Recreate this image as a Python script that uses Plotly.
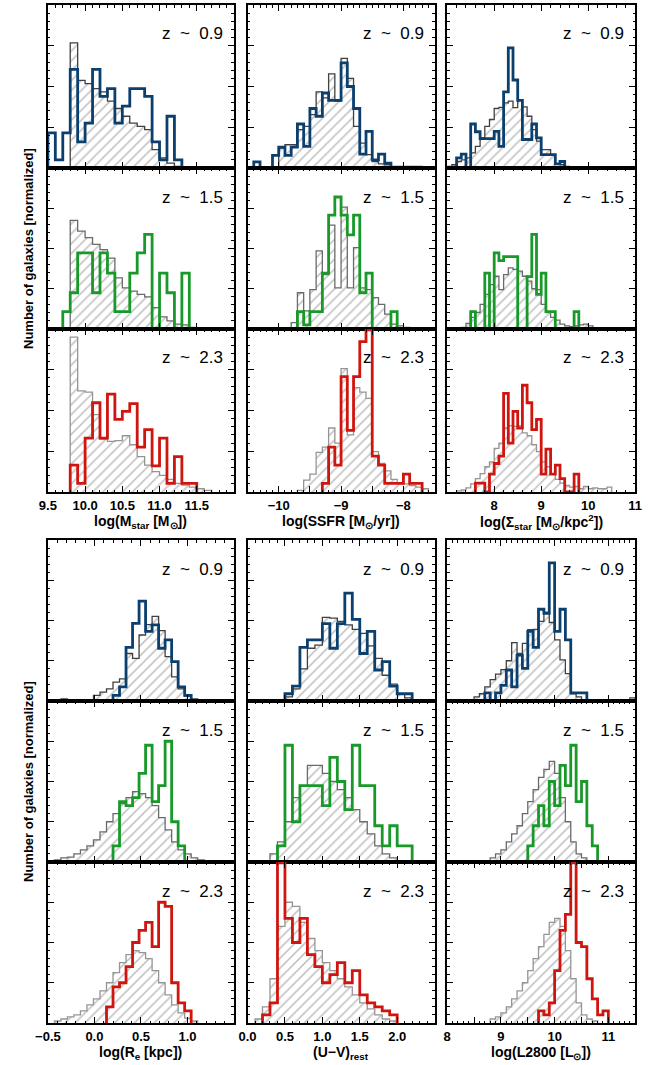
import plotly.graph_objects as go

# ---------------- data (normalized counts, one value per bin) ----------------
mass_bin = 0.1
mass_z09_gray_start, mass_z09_gray = 9.8, [3.07, 2.15, 2.07, 1.95, 1.87, 1.64, 1.46, 1.27, 1.1, 1.02, 0.94, 0.45, 0.25, 0.12, 0.04]
mass_z09_col_start, mass_z09_col = 9.5, [0.86, 0.2, 0.86, 2.42, 0.64, 1.1, 2.42, 1.76, 1.95, 1.1, 1.52, 1.95, 1.95, 1.76, 0.64, 0.2, 1.27, 0.2]
mass_z15_gray_start, mass_z15_gray = 9.8, [2.7, 2.43, 2.27, 2.1, 1.97, 1.76, 1.27, 1.02, 0.94, 0.86, 0.8, 0.53, 0.3, 0.2, 0.12, 0.1, 0.04]
mass_z15_col_start, mass_z15_col = 9.7, [0.43, 0.9, 1.89, 1.89, 0.9, 1.89, 1.39, 0.43, 0.43, 1.39, 1.89, 2.35, 0, 1.39, 0.9, 0, 1.39]
mass_z23_gray_start, mass_z23_gray = 9.8, [3.8, 2.48, 2.45, 1.9, 1.3, 1.24, 1.26, 1.38, 1.16, 0.87, 0.66, 0.5, 0.41, 0.31, 0.21, 0.17, 0.12, 0.08, 0.04]
mass_z23_col_start, mass_z23_col = 9.8, [0.66, 0.21, 1.32, 2.19, 1.32, 2.4, 1.78, 1.98, 2.17, 1.1, 1.53, 0.64, 1.32, 0.21, 0.87, 0.21, 0.21]

ssfr_bin = 0.1
ssfr_z09_gray_start, ssfr_z09_gray = -10.0, [0.49, 0.57, 0.57, 0.94, 1.02, 1.31, 1.87, 1.72, 2.31, 1.64, 2.69, 2.2, 1.02, 0.61, 0.33, 0.16, 0.1, 0.08, 0.04, 0.04, 0.04, 0.04, 0.04]
ssfr_z09_col_start, ssfr_z09_col = -10.4, [0.15, 0, 0, 0.31, 0.51, 0.31, 0.51, 1.08, 0.53, 1.46, 1.27, 1.84, 1.66, 1.66, 2.58, 2.0, 1.46, 0.34, 0.9, 0.2, 0.34, 0.12]
ssfr_z15_gray_start, ssfr_z15_gray = -9.8, [0.16, 0.9, 0.45, 0.98, 1.94, 1.35, 2.58, 1.02, 3.03, 1.02, 2.02, 1.02, 0.98, 0.78, 0.61, 0.37, 0.12, 0.08, 0.04]
ssfr_z15_col_start, ssfr_z15_col = -9.7, [0.43, 0.1, 0.43, 0.43, 1.39, 2.83, 3.28, 2.83, 2.34, 2.83, 0.9, 1.39, 0, 0, 0, 0.43]
ssfr_z23_gray_start, ssfr_z23_gray = -9.7, [0.04, 0.29, 0.44, 0.97, 1.1, 1.57, 1.2, 3.03, 1.4, 2.56, 2.45, 2.3, 0.99, 0.7, 0.52, 0.31, 0.22, 0.2, 0.16, 0.12, 0.08]
ssfr_z23_col_start, ssfr_z23_col = -9.3, [0.21, 1.1, 0.66, 2.83, 1.51, 2.83, 3.69, 3.98, 0.88, 0.66, 0.21, 0.21, 0.21, 0.44, 0.21, 0.21]

sig_bin = 0.1
sig_z09_gray_start, sig_z09_gray = 7.0, [0.04, 0.08, 0.16, 0.2, 0.25, 0.37, 0.53, 0.74, 1.02, 1.19, 1.46, 1.49, 1.6, 1.64, 1.48, 1.68, 1.5, 1.27, 0.94, 0.66, 0.45, 0.45, 0.33, 0.1, 0.08, 0.04, 0.03, 0.02, 0.01, 0.01, 0, 0, 0, 0, 0.03]
sig_z09_col_start, sig_z09_col = 7.2, [0.25, 0.34, 0, 1.08, 0.89, 0.72, 0.72, 0.72, 0.9, 0.53, 1.87, 2.95, 2.16, 1.66, 0.7, 0.7, 1.08, 0.74, 0.33, 0.33, 0.33, 0.1, 0.16]
sig_z15_gray_start, sig_z15_gray = 7.3, [0.04, 0.14, 0.29, 0.41, 0.61, 0.86, 1.1, 1.31, 0.98, 1.35, 1.52, 1.48, 1.44, 1.31, 1.19, 1.0, 0.98, 0.61, 0.41, 0.29, 0.22, 0.12, 0.08, 0.06, 0.08, 0.1, 0.12, 0.08]
sig_z15_col_start, sig_z15_col = 7.5, [0.43, 0, 0, 1.39, 0, 1.89, 1.7, 1.8, 1.8, 1.8, 0, 0, 1.3, 2.35, 0.86, 1.39, 0.43, 0.43, 0, 0, 0, 0, 0.43]
sig_z23_gray_start, sig_z23_gray = 7.2, [0.03, 0.05, 0.1, 0.2, 0.33, 0.45, 0.62, 0.74, 1.07, 1.2, 1.57, 1.63, 1.61, 1.63, 1.45, 1.38, 1.16, 0.99, 0.74, 0.62, 0.45, 0.31, 0.22, 0.16, 0.12, 0.14, 0.08, 0.14, 0.08, 0.1, 0.08, 0.08, 0.12]
sig_z23_col_start, sig_z23_col = 7.6, [0.22, 0.22, 0, 0.44, 0.7, 0.88, 2.42, 1.2, 1.98, 1.57, 2.62, 2.19, 1.53, 1.78, 0.44, 1.05, 0.44, 0.66, 0.33, 0, 0, 0.44]

re_bin = 0.07
re_z09_gray_start, re_z09_gray = -0.36, [0.05, 0.02, 0, 0.02, 0.03, 0.14, 0.22, 0.3, 0.47, 0.55, 1.18, 1.06, 1.64, 1.9, 2.1, 1.75, 1.1, 0.6, 0.3, 0.12, 0.05, 0.02, 0.02]
re_z09_col_start, re_z09_col = 0.2, [0.14, 0.35, 1.33, 1.93, 2.48, 1.73, 1.89, 1.31, 1.52, 0.98, 0.35, 0.14]
re_z15_gray_start, re_z15_gray = -0.43, [0.05, 0.1, 0.12, 0.2, 0.3, 0.4, 0.55, 0.75, 1.0, 1.2, 1.45, 1.6, 1.75, 1.7, 1.6, 1.4, 1.1, 0.8, 0.5, 0.3, 0.2, 0.1, 0.05]
re_z15_col_start, re_z15_col = 0.2, [0.4, 1.5, 1.4, 1.6, 2.2, 2.9, 1.5, 1.9, 3.0, 1.0, 0.4]
re_z23_gray_start, re_z23_gray = -0.43, [0.05, 0.1, 0.15, 0.2, 0.3, 0.45, 0.6, 0.8, 1.0, 1.25, 1.5, 1.7, 1.8, 1.75, 1.6, 1.3, 1.0, 0.7, 0.45, 0.25, 0.12, 0.05]
re_z23_col_start, re_z23_col = 0.13, [0.4, 0.9, 1.0, 1.4, 2.0, 2.3, 2.5, 1.9, 3.0, 2.9, 1.0, 0.5, 0.3]

uv_bin = 0.1
uv_z09_gray_start, uv_z09_gray = 0.0, [0.02, 0.02, 0, 0, 0, 0.1, 0.3, 0.8, 1.31, 1.39, 2.08, 2.06, 1.98, 1.89, 1.78, 1.68, 1.37, 1.06, 0.64, 0.42, 0.18, 0.08, 0.03, 0.02]
uv_z09_col_start, uv_z09_col = 0.5, [0.18, 0.37, 1.33, 1.52, 1.52, 1.92, 1.31, 1.92, 2.68, 2.03, 1.18, 1.73, 0.77, 0.98, 0.37, 0.18, 0.18]
uv_z15_gray_start, uv_z15_gray = 0.3, [0.2, 0.5, 1.0, 1.6, 1.9, 2.4, 2.4, 2.2, 2.0, 1.8, 1.6, 1.3, 1.0, 0.7, 0.4, 0.2, 0.1]
uv_z15_col_start, uv_z15_col = 0.4, [0.4, 2.9, 1.0, 1.9, 1.9, 1.9, 1.4, 2.6, 2.0, 1.3, 2.9, 1.9, 1.9, 0.9, 0.4, 0.9, 0.4, 0.4]
uv_z23_gray_start, uv_z23_gray = 0.1, [0.1, 0.4, 1.1, 2.4, 3.0, 2.9, 2.5, 2.1, 1.8, 1.5, 1.3, 1.1, 0.9, 0.7, 0.5, 0.35, 0.2, 0.1, 0.05]
uv_z23_col_start, uv_z23_col = 0.2, [0.2, 0.5, 3.98, 2.6, 2.0, 2.6, 1.7, 1.4, 1.0, 1.2, 1.5, 1.0, 1.3, 0.7, 0.5, 0.4, 0.3, 0.2]

l28_bin = 0.1
l28_z09_gray_start, l28_z09_gray = 8.5, [0.1, 0.18, 0.35, 0.53, 0.67, 0.78, 1.0, 1.45, 1.18, 1.43, 1.77, 1.78, 1.98, 2.2, 1.95, 1.52, 1.02, 0.68, 0.18, 0.1, 0.02, 0, 0, 0, 0, 0, 0, 0, 0, 0.08]
l28_z09_col_start, l28_z09_col = 8.7, [0.2, 0, 0.2, 0.39, 0.77, 0.35, 1.14, 0.81, 1.73, 1.33, 2.28, 2.18, 3.43, 1.73, 2.28, 1.52, 0.2, 0.2, 0.2]
l28_z15_gray_start, l28_z15_gray = 8.8, [0.1, 0.2, 0.3, 0.5, 0.7, 0.9, 1.2, 1.5, 1.8, 2.1, 2.3, 2.5, 2.2, 1.6, 1.0, 0.5, 0.2, 0.1]
l28_z15_col_start, l28_z15_col = 9.5, [0.4, 0.9, 1.4, 0.9, 2.0, 1.4, 2.4, 1.9, 2.9, 1.5, 2.0, 0.9, 0.4]
l28_z23_gray_start, l28_z23_gray = 8.8, [0.1, 0.15, 0.25, 0.4, 0.6, 0.8, 1.0, 1.3, 1.6, 1.9, 2.2, 2.5, 2.6, 2.4, 1.8, 1.1, 0.5, 0.2, 0.1, 0.05]
l28_z23_col_start, l28_z23_col = 9.7, [0.3, 0.2, 0.5, 1.3, 2.3, 2.7, 3.98, 2.0, 1.9, 1.1, 0.6, 0.2, 0.3]

z_labels = ["z\u00a0\u00a0~\u00a0\u00a00.9", "z\u00a0\u00a0~\u00a0\u00a01.5", "z\u00a0\u00a0~\u00a0\u00a02.3"]
x_titles = [
    "log(M<sub>star</sub> [M<sub>⊙</sub>])",
    "log(SSFR [M<sub>⊙</sub>/yr])",
    "log(Σ<sub>star</sub> [M<sub>⊙</sub>/kpc<sup>2</sup>])",
    "log(R<sub>e</sub> [kpc])",
    "(U−V)<sub>rest</sub>",
    "log(L2800 [L<sub>⊙</sub>])",
]
y_title = "Number of galaxies [normalized]"

# axis definitions per quantity: range, major ticks, labels, minor tick step
axis_defs = {
    "mass": dict(range=[9.5, 12.0], tickvals=[9.5, 10.0, 10.5, 11.0, 11.5],
                 ticktext=["9.5", "10.0", "10.5", "11.0", "11.5"], minor=0.1),
    "ssfr": dict(range=[-10.5, -7.5], tickvals=[-10.0, -9.5, -9.0, -8.5, -8.0],
                 ticktext=["−10", "", "−9", "", "−8"], minor=0.1),
    "sig": dict(range=[7.0, 11.0], tickvals=[8, 9, 10, 11], ticktext=["8", "9", "10", "11"], minor=0.2),
    "re": dict(range=[-0.5, 1.5], tickvals=[-0.5, 0.0, 0.5, 1.0],
               ticktext=["−0.5", "0.0", "0.5", "1.0"], minor=0.1),
    "uv": dict(range=[0.0, 2.5], tickvals=[0.0, 0.5, 1.0, 1.5, 2.0],
               ticktext=["0.0", "0.5", "1.0", "1.5", "2.0"], minor=0.1),
    "l28": dict(range=[8.0, 11.5], tickvals=[8, 8.5, 9, 9.5, 10, 10.5, 11],
                ticktext=["8", "", "9", "", "10", "", "11"], minor=0.1),
}
bins = {"mass": mass_bin, "ssfr": ssfr_bin, "sig": sig_bin, "re": re_bin, "uv": uv_bin, "l28": l28_bin}
grid = [["mass", "ssfr", "sig"], ["re", "uv", "l28"]]
zkeys = ["z09", "z15", "z23"]
colors = ["#0b3f6e", "#18992a", "#d0150f"]
gray_line = ["#404040", "#6a6a6a", "#959595"]

# ---------------- layout geometry (pixels) ----------------
W, H = 649, 1065
col_px = [(36, 228), (242, 435), (448, 642)]
row_px = [[(5, 168), (168, 329), (329, 492)], [(540, 701), (701, 862), (862, 1023)]]


def px_x(p):
    return p / W


def px_y(p):
    return 1 - p / H


def step_xy(start, width, vals):
    edges = [start + i * width for i in range(len(vals) + 1)]
    xs = [edges[0]] + edges[:-1] + [edges[-1], edges[-1]]
    ys = [0] + list(vals) + [vals[-1], 0]
    return xs, ys


fig = go.Figure()
layout = {}
annotations = []
g = globals()
FONT = "Liberation Sans, Arial, sans-serif"
tickfont = dict(family=FONT, size=13, color="black", weight=700)

n = 0
for b in range(2):
    for r in range(3):
        for c in range(3):
            n += 1
            q = grid[b][c]
            zk = zkeys[r]
            xa = "x" if n == 1 else f"x{n}"
            ya = "y" if n == 1 else f"y{n}"
            gs, gv = g[f"{q}_{zk}_gray_start"], g[f"{q}_{zk}_gray"]
            cs, cv = g[f"{q}_{zk}_col_start"], g[f"{q}_{zk}_col"]
            xs, ys = step_xy(gs, bins[q], gv)
            fig.add_trace(go.Scatter(
                x=xs, y=ys, xaxis=xa, yaxis=ya, mode="lines",
                line=dict(color=gray_line[r], width=1.3, shape="hv"),
                fill="tozeroy", fillcolor="rgba(0,0,0,0)",
                fillpattern=dict(shape="/", fgcolor="#7c7c7c", bgcolor="white", size=7, solidity=0.22),
                showlegend=False, hoverinfo="skip"))
            xs, ys = step_xy(cs, bins[q], cv)
            fig.add_trace(go.Scatter(
                x=xs, y=ys, xaxis=xa, yaxis=ya, mode="lines",
                line=dict(color=colors[r], width=2.8, shape="hv"),
                showlegend=False, hoverinfo="skip"))

            x0, x1 = col_px[c]
            y0, y1 = row_px[b][r]
            ad = axis_defs[q]
            key = "xaxis" if n == 1 else f"xaxis{n}"
            ykey = "yaxis" if n == 1 else f"yaxis{n}"
            layout[key] = dict(
                domain=[px_x(x0), px_x(x1)], anchor=ya,
                range=ad["range"], tickmode="array", tickvals=ad["tickvals"], ticktext=ad["ticktext"],
                showticklabels=(r == 2), tickfont=tickfont,
                ticks="inside", ticklen=6, tickwidth=1.2, tickcolor="black",
                minor=dict(dtick=ad["minor"], tick0=0, ticks="inside", ticklen=2.5, tickwidth=1, tickcolor="black"),
                showline=True, linecolor="black", linewidth=2, mirror="allticks",
                showgrid=False, zeroline=False, fixedrange=True,
            )
            layout[ykey] = dict(
                domain=[px_y(y1), px_y(y0)], anchor=xa,
                range=[0, 4], tickmode="array", tickvals=[1, 2, 3], showticklabels=False,
                ticks="inside", ticklen=6, tickwidth=1.2, tickcolor="black",
                minor=dict(dtick=0.2, tick0=0, ticks="inside", ticklen=2.5, tickwidth=1, tickcolor="black"),
                showline=True, linecolor="black", linewidth=2, mirror="allticks",
                showgrid=False, zeroline=False, fixedrange=True,
            )
            annotations.append(dict(
                text=z_labels[r], xref="paper", yref="paper",
                x=px_x(x1 - 9), y=px_y(y0 + 29), xanchor="right", yanchor="middle",
                showarrow=False, font=dict(family=FONT, size=17, color="black")))
            if r == 2:
                annotations.append(dict(
                    text=x_titles[b * 3 + c], xref="paper", yref="paper",
                    x=px_x((x0 + x1) / 2), y=px_y(y1 + 30), xanchor="center", yanchor="middle",
                    showarrow=False, font=dict(family=FONT, size=14, color="black", weight=700)))
    ytop, ybot = row_px[b][0][0], row_px[b][2][1]
    annotations.append(dict(
        text=y_title, xref="paper", yref="paper", textangle=-90,
        x=px_x(16), y=px_y((ytop + ybot) / 2), xanchor="center", yanchor="middle",
        showarrow=False, font=dict(family=FONT, size=13, color="black", weight=700)))

fig.update_layout(
    width=W, height=H, margin=dict(l=0, r=0, t=0, b=0),
    paper_bgcolor="white", plot_bgcolor="white",
    annotations=annotations, **layout)
fig.write_html("out.html")
